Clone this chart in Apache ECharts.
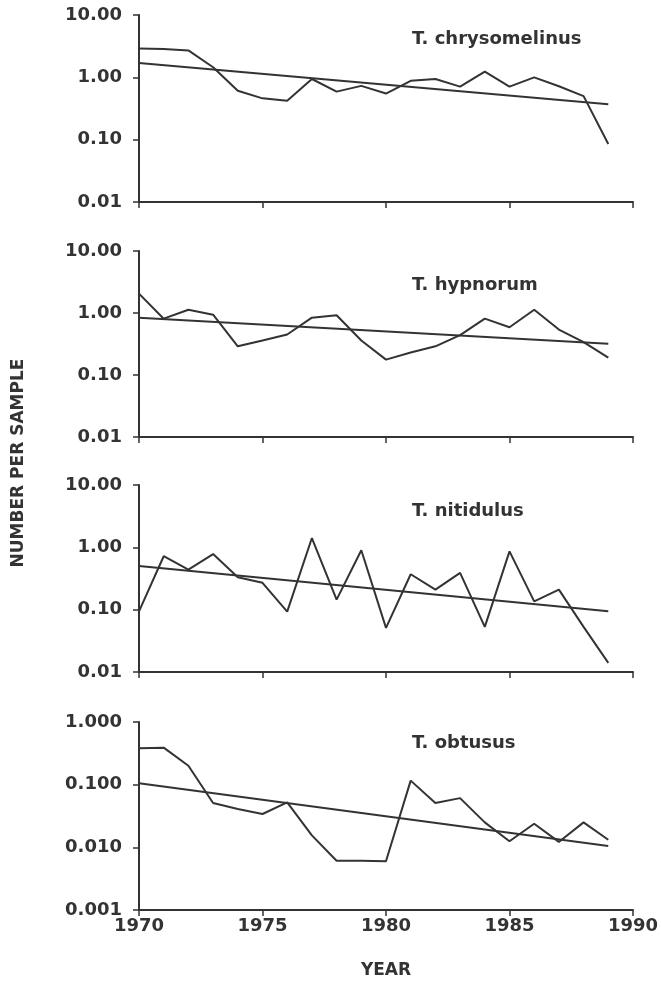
<!DOCTYPE html>
<html>
<head>
<meta charset="utf-8">
<script src="https://cdn.jsdelivr.net/npm/echarts@6/dist/echarts.min.js"></script>
<style>
  html, body { margin: 0; padding: 0; background: #fff; }
  #chart { width: 661px; height: 981px; }
</style>
</head>
<body>
<div id="chart"></div>
<script>
var years = [1970, 1971, 1972, 1973, 1974, 1975, 1976, 1977, 1978, 1979,
  1980, 1981, 1982, 1983, 1984, 1985, 1986, 1987, 1988, 1989]

var chrysomelinus = [2.9, 2.85, 2.7, 1.45, 0.61, 0.46, 0.42, 0.94, 0.59, 0.73,
  0.55, 0.88, 0.94, 0.71, 1.23, 0.71, 1.0, 0.72, 0.5, 0.085]
var hypnorum = [2.05, 0.81, 1.13, 0.94, 0.29, 0.36, 0.45, 0.84, 0.92, 0.36,
  0.177, 0.23, 0.29, 0.44, 0.81, 0.59, 1.13, 0.54, 0.34, 0.19]
var nitidulus = [0.094, 0.72, 0.44, 0.78, 0.33, 0.27, 0.093, 1.41, 0.145, 0.9,
  0.051, 0.37, 0.21, 0.39, 0.053, 0.86, 0.136, 0.21, 0.053, 0.014]
var obtusus = [0.38, 0.39, 0.2, 0.051, 0.041, 0.034, 0.052, 0.0155, 0.0061, 0.0061,
  0.006, 0.116, 0.051, 0.061, 0.025, 0.0125, 0.0238, 0.0122, 0.025, 0.0132]

// fitted trend, value at 1970 and at 1989
var trendYears = [1970, 1989]
var chrysomelinusTrend = [1.7, 0.37]
var hypnorumTrend = [0.84, 0.32]
var nitidulusTrend = [0.5, 0.094]
var obtususTrend = [0.105, 0.0105]

var names = ['T. chrysomelinus', 'T. hypnorum', 'T. nitidulus', 'T. obtusus']
var yMin = [0.01, 0.01, 0.01, 0.001]
var yMax = [10, 10, 10, 1]
var yDigits = [2, 2, 2, 3]
var xTicks = [1970, 1975, 1980, 1985, 1990]

var ink = '#333'
var font = 'DejaVu Sans, Verdana, sans-serif'

// panel boxes
var tops = [15, 251, 485, 722]
var heights = [187, 186, 187, 188]
var titleTops = [25, 271, 497, 729]

function pairs(xs, ys) {
  var out = []
  for (var i = 0; i < xs.length; i++) {
    out.push([xs[i], ys[i]])
  }
  return out
}

var seriesData = [chrysomelinus, hypnorum, nitidulus, obtusus]
var trendData = [chrysomelinusTrend, hypnorumTrend, nitidulusTrend, obtususTrend]

var grid = []
var xAxis = []
var yAxis = []
var series = []
var title = []

for (var i = 0; i < 4; i++) {
  grid.push({ left: 139, top: tops[i], width: 494, height: heights[i] })
  title.push({
    text: names[i],
    left: 407,
    top: titleTops[i],
    textStyle: { fontFamily: font, fontSize: 18, fontWeight: 'bold', color: ink }
  })
  xAxis.push({
    type: 'value',
    gridIndex: i,
    min: xTicks[0],
    max: xTicks[xTicks.length - 1],
    interval: 5,
    axisLine: { show: true, onZero: false, lineStyle: { color: ink, width: 2 } },
    axisTick: { show: true, length: 6, lineStyle: { color: ink, width: 1.5 } },
    axisLabel: {
      show: i === 3,
      margin: 7,
      fontFamily: font,
      fontSize: 18,
      fontWeight: 'bold',
      color: ink,
      formatter: function(v) { return String(v) }
    },
    splitLine: { show: false }
  })
  ;(function(d) {
    yAxis.push({
      type: 'log',
      logBase: 10,
      gridIndex: i,
      min: yMin[i],
      max: yMax[i],
      axisLine: { show: true, lineStyle: { color: ink, width: 2 } },
      axisTick: { show: true, length: 6, lineStyle: { color: ink, width: 1.5 } },
      axisLabel: {
        margin: 17,
        fontFamily: font,
        fontSize: 18,
        fontWeight: 'bold',
        color: ink,
        formatter: function(v) { return Number(v).toFixed(d) }
      },
      splitLine: { show: false },
      minorTick: { show: false }
    })
  })(yDigits[i])
  series.push({
    type: 'line',
    xAxisIndex: i,
    yAxisIndex: i,
    data: pairs(years, seriesData[i]),
    showSymbol: false,
    lineStyle: { color: ink, width: 2 },
    silent: true
  })
  series.push({
    type: 'line',
    xAxisIndex: i,
    yAxisIndex: i,
    data: pairs(trendYears, trendData[i]),
    showSymbol: false,
    lineStyle: { color: ink, width: 2 },
    silent: true
  })
}

var chart = echarts.init(document.getElementById('chart'))
chart.setOption({
  backgroundColor: '#fff',
  animation: false,
  title: title,
  grid: grid,
  xAxis: xAxis,
  yAxis: yAxis,
  series: series,
  graphic: [
    {
      type: 'text',
      x: 19,
      y: 463,
      rotation: Math.PI / 2,
      style: {
        text: 'NUMBER PER SAMPLE',
        fontFamily: font,
        fontSize: 17,
        fontWeight: 'bold',
        fill: ink,
        align: 'center',
        verticalAlign: 'middle'
      }
    },
    {
      type: 'text',
      x: 386,
      y: 971,
      style: {
        text: 'YEAR',
        fontFamily: font,
        fontSize: 17,
        fontWeight: 'bold',
        fill: ink,
        align: 'center',
        verticalAlign: 'middle'
      }
    }
  ]
})
</script>
</body>
</html>
